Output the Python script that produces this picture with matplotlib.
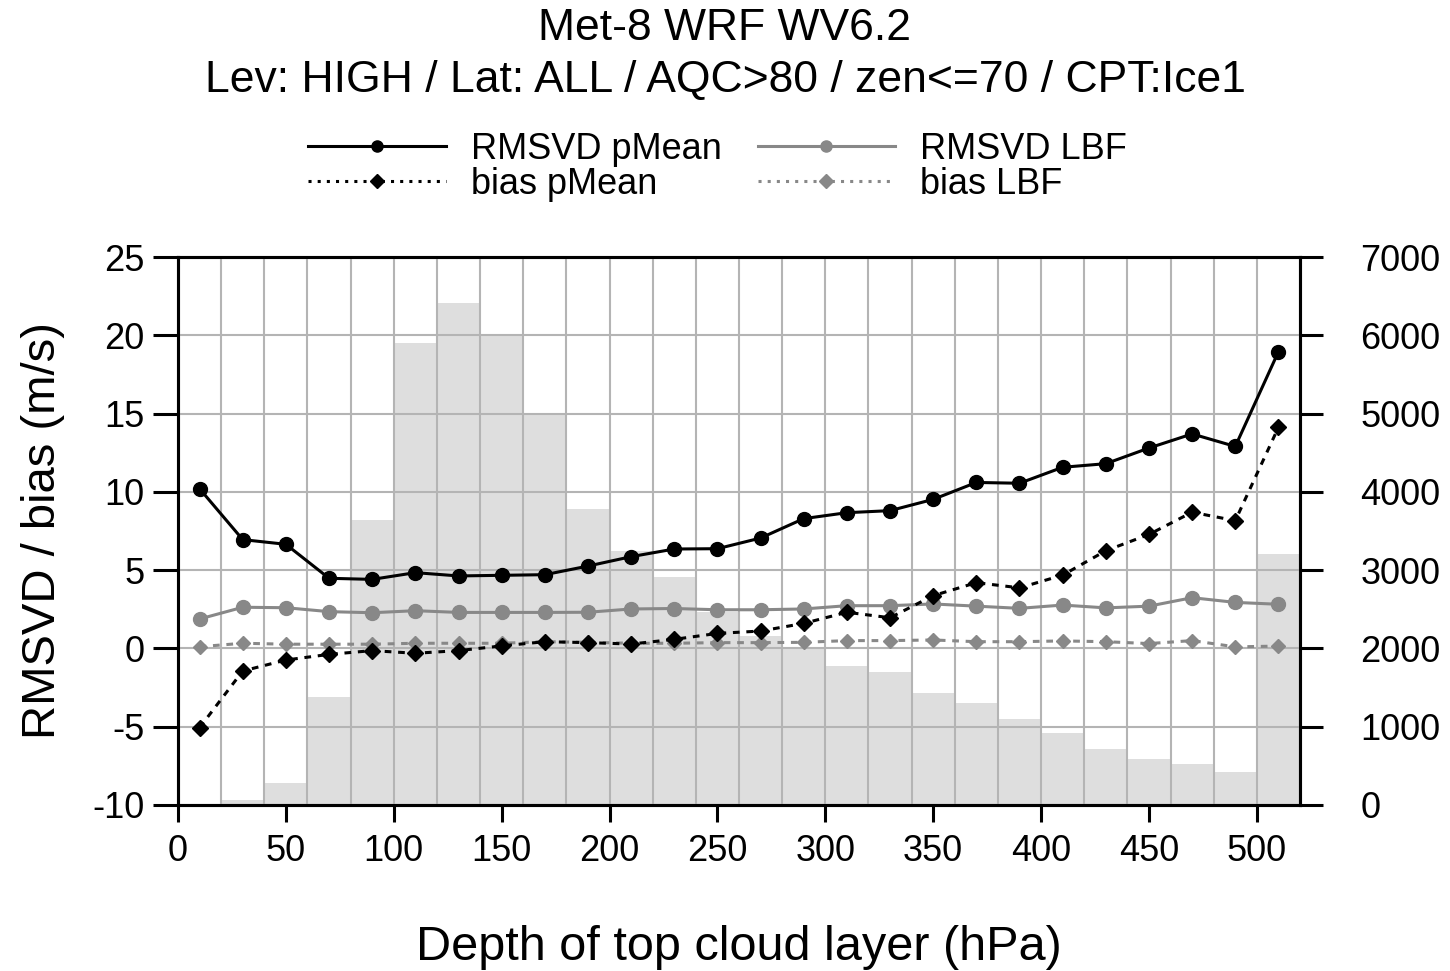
import numpy as np
import matplotlib
matplotlib.use("Agg")
import matplotlib.pyplot as plt
from matplotlib.lines import Line2D
from matplotlib.ticker import MultipleLocator

plt.rcParams['font.family'] = ['Liberation Sans', 'DejaVu Sans']
plt.rcParams['axes.unicode_minus'] = False

# cloud layer depth bins (hPa), 20 hPa wide
depth = np.arange(10, 520, 20)

rmsvd_pmean = [10.2, 6.95, 6.65, 4.48, 4.41, 4.84, 4.63, 4.67, 4.71, 5.26,
               5.86, 6.35, 6.37, 7.05, 8.29, 8.67, 8.80, 9.52, 10.6, 10.55,
               11.57, 11.8, 12.8, 13.7, 12.9, 18.95]
rmsvd_lbf = [1.88, 2.63, 2.6, 2.35, 2.28, 2.41, 2.3, 2.3, 2.3, 2.31,
             2.52, 2.55, 2.47, 2.47, 2.52, 2.73, 2.73, 2.84, 2.7, 2.56,
             2.77, 2.59, 2.7, 3.24, 2.94, 2.82]
bias_pmean = [-5.06, -1.44, -0.74, -0.38, -0.14, -0.31, -0.14, 0.16, 0.43, 0.37,
              0.28, 0.58, 0.96, 1.11, 1.6, 2.31, 1.96, 3.37, 4.2, 3.87,
              4.68, 6.24, 7.28, 8.7, 8.16, 14.12]
bias_lbf = [0.11, 0.33, 0.27, 0.27, 0.27, 0.33, 0.33, 0.33, 0.43, 0.39,
            0.33, 0.33, 0.37, 0.37, 0.39, 0.5, 0.5, 0.54, 0.43, 0.43,
            0.48, 0.43, 0.31, 0.5, 0.1, 0.15]
# number of matched winds per bin
counts = [5, 64, 285, 1380, 3640, 5905, 6408, 6010, 5000, 3777,
          3250, 2917, 2460, 2160, 2022, 1775, 1695, 1436, 1297, 1093,
          917, 709, 593, 519, 417, 3200]

gray = '#888888'

fig = plt.figure(figsize=(14.5, 9.71), dpi=100)
ax = fig.add_axes([0.12276, 0.17096, 0.77379, 0.56436])
ax2 = ax.twinx()

# histogram behind the statistics
ax2.bar(depth, counts, width=20, color='#dedede', edgecolor='none')
ax2.set_ylim(0, 7000)
ax2.yaxis.set_major_locator(MultipleLocator(1000))

ax.set_zorder(ax2.get_zorder() + 1)
ax.patch.set_visible(False)

ax.plot(depth, rmsvd_pmean, color='black', lw=2.2, marker='o', ms=10, zorder=5)
ax.plot(depth, rmsvd_lbf, color=gray, lw=2.2, marker='o', ms=10, zorder=4)
ax.plot(depth, bias_pmean, color='black', lw=2.2, ls=(0, (2.2, 2.2)),
        marker='D', ms=8, zorder=5)
ax.plot(depth, bias_lbf, color=gray, lw=2.2, ls=(0, (2.2, 2.2)),
        marker='D', ms=7, zorder=4)

ax.set_xlim(0, 520)
ax.set_ylim(-10, 25)
ax.xaxis.set_major_locator(MultipleLocator(50))
ax.xaxis.set_minor_locator(MultipleLocator(20))
ax.xaxis.remove_overlapping_locs = False
ax.yaxis.set_major_locator(MultipleLocator(5))

ax.set_axisbelow(True)
ax.grid(which='minor', axis='x', color='#b4b4b4', lw=1.5)
ax.grid(which='major', axis='y', color='#b4b4b4', lw=1.5)

for a in (ax, ax2):
    for s in a.spines.values():
        s.set_linewidth(2.2)

ax.tick_params(axis='x', which='major', length=12, width=2.2, pad=9, labelsize=26)
ax.tick_params(axis='x', which='minor', length=0)
ax.tick_params(axis='y', length=18, width=2.2, pad=6, labelsize=26)
ax2.tick_params(axis='y', length=16.5, width=2.2, pad=27, labelsize=26)

ax.set_xlabel('Depth of top cloud layer (hPa)', fontsize=35, labelpad=40)
ax.set_ylabel('RMSVD / bias (m/s)', fontsize=34, labelpad=20)

fig.text(0.5, 0.992, 'Met-8 WRF WV6.2', ha='center', va='top', fontsize=32)
fig.text(0.5, 0.938, 'Lev: HIGH / Lat: ALL / AQC>80 / zen<=70 / CPT:Ice1',
         ha='center', va='top', fontsize=32)

handles = [
    Line2D([], [], color='black', lw=2.2, marker='o', ms=8),
    Line2D([], [], color='black', lw=2.2, ls=(0, (1, 2)), marker='D', ms=7),
    Line2D([], [], color=gray, lw=2.2, marker='o', ms=8),
    Line2D([], [], color=gray, lw=2.2, ls=(0, (1, 2)), marker='D', ms=7),
]
labels = ['RMSVD pMean', 'bias pMean', 'RMSVD LBF', 'bias LBF']
fig.legend(handles, labels, ncol=2, loc='center', bbox_to_anchor=(0.495, 0.828),
           frameon=False, fontsize=26, handlelength=3.8, handletextpad=0.7,
           columnspacing=1.0, labelspacing=0.0, borderpad=0)

fig.savefig('out.png', dpi=100)
